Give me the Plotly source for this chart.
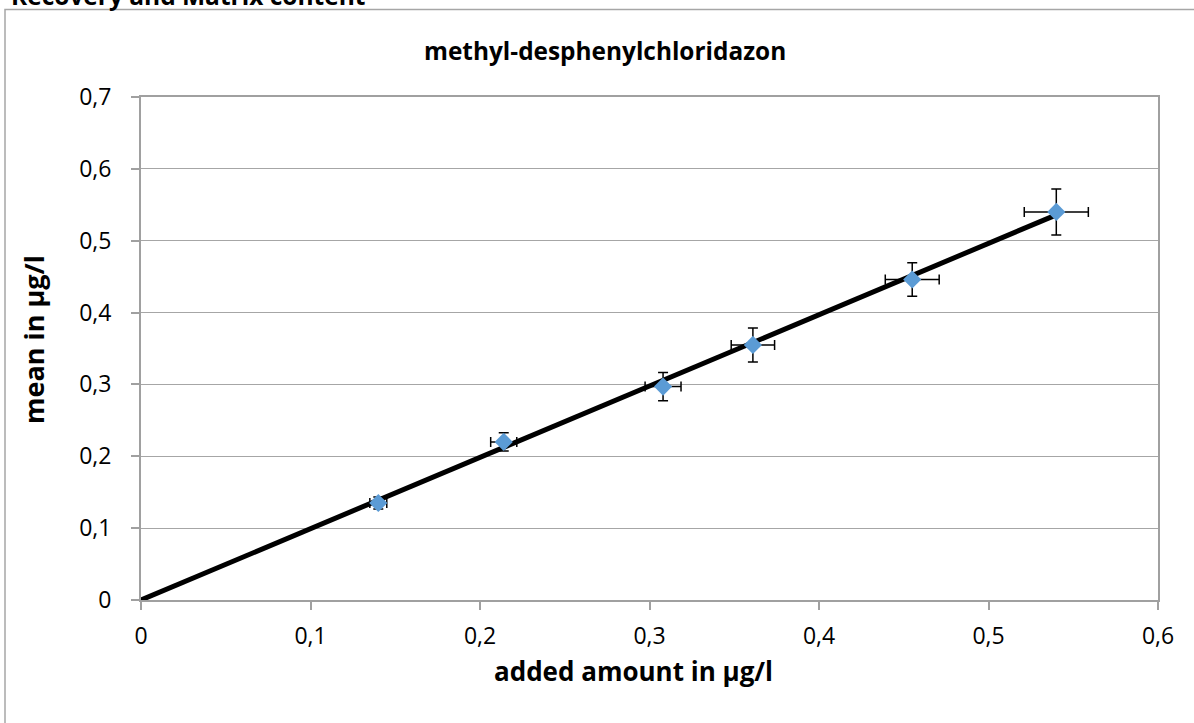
import plotly.graph_objects as go

# Data
added_amount = [0.140, 0.214, 0.308, 0.361, 0.455, 0.540]
mean_value = [0.135, 0.220, 0.297, 0.355, 0.446, 0.540]
x_error = [0.005, 0.0077, 0.0106, 0.0128, 0.0159, 0.0189]
y_error = [0.0085, 0.0128, 0.0197, 0.0237, 0.0232, 0.032]

trend_x = [0.0, 0.540]
trend_y = [0.0, 0.536]

x_ticks = [0, 0.1, 0.2, 0.3, 0.4, 0.5, 0.6]
y_ticks = [0, 0.1, 0.2, 0.3, 0.4, 0.5, 0.6, 0.7]

W, H = 1194, 723
L, R, T, B = 141, 1158, 97, 600

def px_x(p):
    return (p - L) / (R - L)

def px_y(p):
    return (B - p) / (B - T)

FONT = "Open Sans"

fig = go.Figure()
fig.add_trace(go.Scatter(
    x=trend_x, y=trend_y, mode="lines",
    line=dict(color="black", width=5),
    showlegend=False, hoverinfo="skip"))
fig.add_trace(go.Scatter(
    x=added_amount, y=mean_value, mode="markers",
    marker=dict(symbol="diamond", size=14, color="#5B9BD5"),
    error_x=dict(type="data", array=x_error, color="black", thickness=1.5, width=5),
    error_y=dict(type="data", array=y_error, color="black", thickness=1.5, width=5),
    showlegend=False))

fig.update_layout(
    width=W, height=H,
    margin=dict(l=L, r=W - R, t=T, b=H - B),
    paper_bgcolor="white", plot_bgcolor="white",
    separators=",.",
    font=dict(family=FONT, color="black", size=23),
    xaxis=dict(range=[0, 0.6], tickvals=x_ticks, showgrid=False, zeroline=False,
               showline=True, linecolor="#a0a0a0", linewidth=2, mirror=True,
               ticks="outside", ticklen=8, tickcolor="#a0a0a0", tickwidth=1.5,
               ticklabelstandoff=6,
               tickfont=dict(size=23, family=FONT)),
    yaxis=dict(range=[0, 0.7], tickvals=y_ticks, showgrid=True, gridcolor="#a6a6a6",
               gridwidth=1, zeroline=False,
               showline=True, linecolor="#a0a0a0", linewidth=2, mirror=True,
               ticks="outside", ticklen=8, tickcolor="#a0a0a0", tickwidth=1.5,
               ticklabelstandoff=15,
               tickfont=dict(size=23, family=FONT)),
    shapes=[dict(type="rect", xref="paper", yref="paper",
                 x0=px_x(5), x1=px_x(1210), y0=px_y(740), y1=px_y(9.5),
                 line=dict(color="#a6a6a6", width=1.5), fillcolor="rgba(0,0,0,0)",
                 layer="below")],
    annotations=[
        dict(text="<b>Recovery and Matrix content</b>", xref="paper", yref="paper",
             x=px_x(9), y=px_y(14), xanchor="left", yanchor="bottom", showarrow=False,
             font=dict(size=24.5, family=FONT)),
        dict(text="<b>methyl-desphenylchloridazon</b>", xref="paper", yref="paper",
             x=px_x(605), y=px_y(50), xanchor="center", yanchor="middle", showarrow=False,
             font=dict(size=24.4, family=FONT)),
        dict(text="<b>added amount in µg/l</b>", xref="paper", yref="paper",
             x=px_x(633), y=px_y(671), xanchor="center", yanchor="middle", showarrow=False,
             font=dict(size=26, family=FONT)),
        dict(text="<b>mean in µg/l</b>", xref="paper", yref="paper",
             x=px_x(33), y=px_y(340), xanchor="center", yanchor="middle", showarrow=False,
             textangle=-90, font=dict(size=27, family=FONT)),
    ],
)

fig.write_html("out.html", config={"displayModeBar": False},
               post_script="document.body.style.margin='0';")
